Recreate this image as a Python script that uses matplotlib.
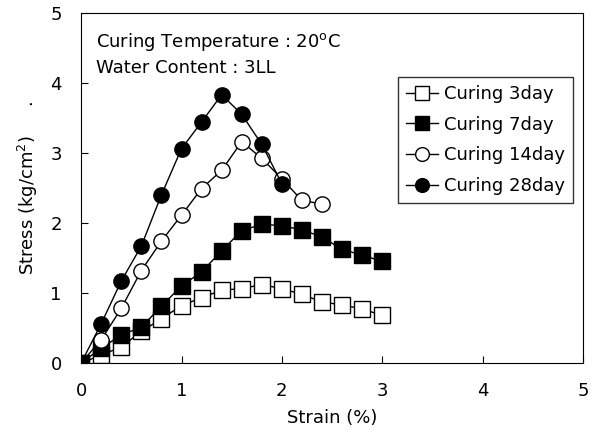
import matplotlib
matplotlib.use('Agg')
import matplotlib.pyplot as plt

plt.rcParams['font.family'] = ['DejaVu Sans']

# strain (%) and stress (kg/cm2)
x3 = [0, 0.2, 0.4, 0.6, 0.8, 1.0, 1.2, 1.4, 1.6, 1.8, 2.0, 2.2, 2.4, 2.6, 2.8, 3.0]
y3 = [0, 0.11, 0.23, 0.45, 0.63, 0.82, 0.93, 1.04, 1.06, 1.12, 1.06, 0.98, 0.87, 0.83, 0.77, 0.68]
x7 = [0, 0.2, 0.4, 0.6, 0.8, 1.0, 1.2, 1.4, 1.6, 1.8, 2.0, 2.2, 2.4, 2.6, 2.8, 3.0]
y7 = [0, 0.21, 0.40, 0.51, 0.81, 1.10, 1.30, 1.60, 1.89, 1.98, 1.96, 1.90, 1.80, 1.62, 1.54, 1.45]
x14 = [0, 0.2, 0.4, 0.6, 0.8, 1.0, 1.2, 1.4, 1.6, 1.8, 2.0, 2.2, 2.4]
y14 = [0, 0.33, 0.78, 1.32, 1.74, 2.11, 2.49, 2.75, 3.16, 2.92, 2.63, 2.32, 2.27]
x28 = [0, 0.2, 0.4, 0.6, 0.8, 1.0, 1.2, 1.4, 1.6, 1.8, 2.0]
y28 = [0, 0.56, 1.17, 1.67, 2.40, 3.06, 3.44, 3.83, 3.55, 3.12, 2.56]

fig = plt.figure(figsize=(6.01, 4.41), dpi=100)
ax = fig.add_axes([0.135, 0.177, 0.835, 0.794])

ax.plot(x3, y3, '-s', color='black', lw=1, ms=11, mfc='white', mew=1, label='Curing 3day')
ax.plot(x7, y7, '-s', color='black', lw=1, ms=11, mfc='black', label='Curing 7day')
ax.plot(x14, y14, '-o', color='black', lw=1, ms=11, mfc='white', mew=1, label='Curing 14day')
ax.plot(x28, y28, '-o', color='black', lw=1, ms=11, mfc='black', label='Curing 28day')

ax.set_xlim(0, 5)
ax.set_ylim(0, 5)
ax.set_xticks(range(6))
ax.set_yticks(range(6))
ax.tick_params(direction='in', length=5, labelsize=13)
ax.tick_params(axis='x', pad=14)
ax.tick_params(axis='y', pad=14)
ax.set_xlabel('Strain (%)', fontsize=13, labelpad=6)
ax.set_ylabel('Stress (kg/cm$^2$)     .', fontsize=13, labelpad=7)

ax.text(0.03, 0.918, 'Curing Temperature : 20$^\\mathregular{o}$C', transform=ax.transAxes,
        fontsize=13, va='center')
ax.text(0.03, 0.843, 'Water Content : 3LL', transform=ax.transAxes, fontsize=13, va='center')

leg = ax.legend(loc='upper right', bbox_to_anchor=(0.98, 0.817), borderaxespad=0,
                fontsize=13, frameon=True, fancybox=False, edgecolor='black',
                handlelength=1.8, handletextpad=0.3, borderpad=0.45, labelspacing=0.7,
                markerscale=0.9)
leg.get_frame().set_linewidth(1)

fig.savefig('out.png', dpi=100)
